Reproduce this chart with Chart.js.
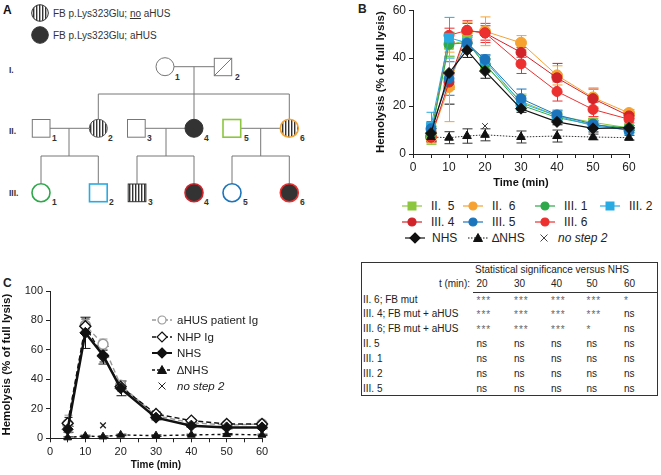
<!DOCTYPE html>
<html>
<head>
<meta charset="utf-8">
<script src="https://cdn.jsdelivr.net/npm/chart.js@4.4.1/dist/chart.umd.min.js"></script>
<style>
  html, body { margin:0; padding:0; background:#fff; }
  body { width:661px; height:475px; position:relative; overflow:hidden; font-family:"Liberation Sans", Arial, sans-serif; color:#222; }
  .abs { position:absolute; white-space:nowrap; }
  .lbl { font-weight:bold; font-size:12px; }
  .leg { position:absolute; display:flex; align-items:center; white-space:nowrap; font-size:12px; color:#222; }
  .leg svg { display:block; }
  .tb { position:absolute; font-size:10px; color:#222; white-space:nowrap; line-height:12px; }
  .st { color:#666; letter-spacing:1px; }
</style>
</head>
<body>
<script>
// ---------- DATA ----------
const times = [5, 10, 15, 20, 30, 40, 50, 60];

// Panel B: hemolysis (% of full lysis)
const bII5   = [8.0, 45.5, 47.5, 36.9, 22.0, 15.9, 13.2, 10.9];
const bII6   = [7.0, 28.0, 51.0, 51.2, 46.4, 32.8, 23.6, 17.1];
const bIII1  = [8.5, 45.8, 46.4, 37.6, 20.4, 15.2, 12.2, 10.9];
const bIII2  = [11.4, 48.5, 46.4, 39.0, 21.3, 15.9, 11.8, 10.0];
const bIII4  = [7.0, 30.0, 51.5, 50.5, 42.4, 31.8, 23.1, 15.9];
const bIII5  = [10.5, 31.5, 46.2, 39.4, 23.1, 16.3, 12.5, 9.8];
const bIII6  = [7.5, 49.5, 51.6, 50.5, 37.6, 26.1, 18.6, 14.5];
const bNHS   = [8.7, 33.8, 43.3, 34.6, 18.9, 13.4, 10.7, 10.9];
const bDNHS  = [7.1, 6.8, 7.5, 8.0, 7.1, 7.5, 7.1, 6.8];
const bNoStep2 = [{ x: 20, y: 11.7 }];

const eII5   = [4, 5, 4, 3, 3, 1.5, 1.5, 1];
const eII6   = [2.5, 14.5, 4, 6, 3, 4, 4, 1.5];
const eIII1  = [3, 5, 3, 2, 2, 1.5, 1.5, 1];
const eIII2  = [6, 8.5, 3, 2, 3, 2, 1.5, 1];
const eIII4  = [2, 3, 3, 3, 2, 6, 4, 1];
const eIII5  = [3, 7, 3, 2, 4, 2, 1.5, 1];
const eIII6  = [2, 3, 4, 4, 4, 4, 3, 1.5];
const eNHS   = [2, 13, 3, 3, 1.5, 1.2, 1.5, 1];
const eDNHS  = [2, 2.5, 3, 2.5, 2.5, 2.5, 1.2, 1];

// Panel C
const cAHUS  = [9.7, 76.7, 63.9, 36.0, 15.3, 10.6, 9.0, 9.7];
const cNHP   = [10.2, 76.0, 55.8, 35.0, 16.5, 12.0, 9.7, 9.7];
const cNHS   = [6.1, 71.6, 56.4, 33.9, 14.0, 8.6, 7.4, 7.4];
const cDNHS  = [0.5, 1.6, 1.1, 2.3, 1.8, 2.3, 2.7, 2.3];
const cNoStep2 = [{ x: 15, y: 8.8 }];

const ecAHUS = [6, 4, 3.5, 3, 1.5, 1, 1, 1];
const ecNHP  = [4, 5, 4, 3, 1.5, 1, 1, 1];
const ecNHS  = [2, 10.6, 6, 5, 1.5, 1, 1, 1];
const ecDNHS = [0.5, 0.5, 0.5, 0.5, 0.5, 0.5, 0.5, 0.5];

// Table
const tableCols = ['20', '30', '40', '50', '60'];
const tableRows = ['II. 6; FB mut', 'III. 4; FB mut + aHUS', 'III. 6; FB mut + aHUS', 'II. 5', 'III. 1', 'III. 2', 'III. 5'];
const tableVals = [
  ['***', '***', '***', '***', '*'],
  ['***', '***', '***', '***', 'ns'],
  ['***', '***', '***', '*', 'ns'],
  ['ns', 'ns', 'ns', 'ns', 'ns'],
  ['ns', 'ns', 'ns', 'ns', 'ns'],
  ['ns', 'ns', 'ns', 'ns', 'ns'],
  ['ns', 'ns', 'ns', 'ns', 'ns']
];

// Colours
const colII5 = '#8CC63F', colII6 = '#F5A231', colIII1 = '#2EA84A', colIII2 = '#29ABE2',
      colIII4 = '#D0232A', colIII5 = '#1C75BC', colIII6 = '#EC2F2F', colBlk = '#111';
</script>

<!-- Panel A: pedigree -->
<svg class="abs" style="left:0;top:0" width="360" height="250" xmlns="http://www.w3.org/2000/svg">
  <defs>
    <pattern id="stripes" patternUnits="userSpaceOnUse" width="3" height="6">
      <rect x="0" y="0" width="3" height="6" fill="#fff"/>
      <rect x="0" y="0" width="1.4" height="6" fill="#333"/>
    </pattern>
  </defs>
  <text x="3" y="14" font-family="Liberation Sans, Arial" font-weight="bold" font-size="12" fill="#111">A</text>
  <circle cx="40" cy="13" r="8.3" fill="url(#stripes)" stroke="#333" stroke-width="1"/>
  <text x="53" y="17" font-family="Liberation Sans, Arial" font-size="10" fill="#333">FB p.Lys323Glu; <tspan text-decoration="underline">no</tspan> aHUS</text>
  <circle cx="40" cy="35" r="8.3" fill="#333" stroke="#333" stroke-width="1"/>
  <text x="53" y="39" font-family="Liberation Sans, Arial" font-size="10" fill="#333">FB p.Lys323Glu; aHUS</text>

  <g font-family="Liberation Sans, Arial" font-weight="bold" font-size="8.5" fill="#333">
    <text x="9" y="73">I.</text>
    <text x="9" y="134">II.</text>
    <text x="9" y="196">III.</text>
  </g>

  <g stroke="#777" stroke-width="1" fill="none">
    <!-- generation I -->
    <line x1="174" y1="66.7" x2="214.3" y2="66.7"/>
    <line x1="194" y1="66.7" x2="194" y2="94"/>
    <line x1="98.3" y1="94" x2="289.3" y2="94"/>
    <line x1="98.3" y1="94" x2="98.3" y2="119.3"/>
    <line x1="194" y1="94" x2="194" y2="119.3"/>
    <line x1="289.3" y1="94" x2="289.3" y2="119.3"/>
    <!-- generation II couples -->
    <line x1="50" y1="128.3" x2="89.3" y2="128.3"/>
    <line x1="69" y1="128.3" x2="69" y2="156"/>
    <line x1="41" y1="156" x2="98.3" y2="156"/>
    <line x1="41" y1="156" x2="41" y2="183.7"/>
    <line x1="98.3" y1="156" x2="98.3" y2="184"/>
    <line x1="145" y1="128.3" x2="185" y2="128.3"/>
    <line x1="166" y1="128.3" x2="166" y2="156"/>
    <line x1="137" y1="156" x2="194" y2="156"/>
    <line x1="137" y1="156" x2="137" y2="184"/>
    <line x1="194" y1="156" x2="194" y2="183.7"/>
    <line x1="240.7" y1="128.3" x2="280.3" y2="128.3"/>
    <line x1="260.7" y1="128.3" x2="260.7" y2="156"/>
    <line x1="232" y1="156" x2="289.3" y2="156"/>
    <line x1="232" y1="156" x2="232" y2="183.7"/>
    <line x1="289.3" y1="156" x2="289.3" y2="183.7"/>
  </g>

  <!-- generation I symbols -->
  <circle cx="165" cy="66.7" r="9" fill="#fff" stroke="#777" stroke-width="1"/>
  <rect x="214.3" y="58.3" width="17.4" height="17.4" fill="#fff" stroke="#777" stroke-width="1"/>
  <line x1="214.3" y1="75.7" x2="231.7" y2="58.3" stroke="#777" stroke-width="1"/>
  <!-- generation II -->
  <rect x="32.3" y="119.5" width="17.7" height="17.7" fill="#fff" stroke="#777" stroke-width="1"/>
  <circle cx="98.3" cy="128.3" r="9" fill="url(#stripes)" stroke="#555" stroke-width="1"/>
  <rect x="127.5" y="119.5" width="17.7" height="17.7" fill="#fff" stroke="#777" stroke-width="1"/>
  <circle cx="194" cy="128.3" r="9" fill="#333" stroke="#333" stroke-width="1"/>
  <rect x="223" y="119.5" width="17.7" height="17.7" fill="#fff" stroke="#8CC63F" stroke-width="1.6"/>
  <circle cx="289.3" cy="128.3" r="9" fill="url(#stripes)" stroke="#F5A231" stroke-width="1.6"/>
  <!-- generation III -->
  <circle cx="41" cy="192.7" r="9" fill="#fff" stroke="#2EA84A" stroke-width="1.6"/>
  <rect x="89.5" y="184" width="17.7" height="17.7" fill="#fff" stroke="#29ABE2" stroke-width="1.6"/>
  <rect x="128.2" y="184" width="17.7" height="17.7" fill="url(#stripes)" stroke="#333" stroke-width="1"/>
  <circle cx="194" cy="192.7" r="9" fill="#333" stroke="#D0232A" stroke-width="1.6"/>
  <circle cx="232" cy="192.7" r="9" fill="#fff" stroke="#1C75BC" stroke-width="1.6"/>
  <circle cx="289.3" cy="192.7" r="9" fill="#333" stroke="#EC2F2F" stroke-width="1.6"/>

  <g font-family="Liberation Sans, Arial" font-weight="bold" font-size="8.5" fill="#333">
    <text x="175" y="80">1</text><text x="235" y="80">2</text>
    <text x="52" y="141">1</text><text x="108" y="141">2</text><text x="147" y="141">3</text>
    <text x="204" y="141">4</text><text x="244" y="141">5</text><text x="300" y="141">6</text>
    <text x="52" y="205">1</text><text x="109" y="205">2</text><text x="148" y="205">3</text>
    <text x="204" y="205">4</text><text x="243" y="205">5</text><text x="300" y="205">6</text>
  </g>
</svg>

<div class="abs lbl" style="left:358px;top:2px;">B</div>
<div class="abs lbl" style="left:3px;top:276px;">C</div>

<canvas id="chartB" class="abs" style="left:360px;top:0px;" width="290" height="196"></canvas>
<canvas id="chartC" class="abs" style="left:0px;top:275px;" width="280" height="200"></canvas>

<div id="legB"></div>
<div id="legC"></div>
<div id="tbl"></div>

<script>
Chart.defaults.font.family = '"Liberation Sans", Arial, sans-serif';
Chart.defaults.color = '#222';

const errorBarPlugin = {
  id: 'errorBars',
  beforeDatasetsDraw(chart) {
    const ctx = chart.ctx;
    const xs = chart.scales.x, ys = chart.scales.y;
    chart.data.datasets.forEach((ds, i) => {
      if (!ds.errors) return;
      const cap = ds.capWidth || 5;
      ctx.save();
      ctx.strokeStyle = ds.errorColor || ds.borderColor;
      ctx.lineWidth = 1;
      ds.data.forEach((p, j) => {
        const e = ds.errors[j];
        if (!e) return;
        const x = Math.round(xs.getPixelForValue(p.x)) + 0.5;
        const yt = ys.getPixelForValue(p.y + e);
        const yb = ys.getPixelForValue(Math.max(p.y - e, 0));
        ctx.beginPath();
        ctx.moveTo(x, yt); ctx.lineTo(x, yb);
        ctx.moveTo(x - cap, yt); ctx.lineTo(x + cap, yt);
        ctx.moveTo(x - cap, yb); ctx.lineTo(x + cap, yb);
        ctx.stroke();
      });
      ctx.restore();
    });
  }
};

function pts(vals) { return vals.map((v, i) => ({ x: times[i], y: v })); }

function lineDs(label, vals, errs, color, style, radius, order, extra) {
  return Object.assign({
    label, data: pts(vals), errors: errs,
    borderColor: color, backgroundColor: color,
    pointBackgroundColor: color, pointBorderColor: color,
    pointStyle: style, pointRadius: radius, pointBorderWidth: 1,
    borderWidth: 1, tension: 0, clip: false, order
  }, extra || {});
}

function axes(cfg) {
  const axisColor = '#222';
  return {
    x: {
      type: 'linear', min: 0, max: 60,
      afterFit: s => { s.height = cfg.xh; },
      afterBuildTicks: s => { s.ticks = [0,5,10,15,20,25,30,35,40,45,50,55,60].map(v => ({ value: v })); },
      ticks: { autoSkip: false, maxRotation: 0, padding: cfg.xpad, font: { size: cfg.tickSize }, color: '#222',
               callback: v => (v % 10 === 0 ? String(v) : '') },
      grid: { display: true, drawOnChartArea: false, drawTicks: true, tickLength: 4, color: axisColor, lineWidth: 1 },
      border: { display: true, color: axisColor, width: 1 },
      title: { display: true, text: 'Time (min)', font: { size: cfg.xtSize, weight: 'bold' }, color: '#111',
               padding: { top: 0, bottom: cfg.xtPad } }
    },
    y: {
      min: 0, max: cfg.ymax,
      afterFit: s => { s.width = cfg.yw; },
      ticks: { stepSize: 20, padding: 3, font: { size: cfg.tickSize }, color: '#222' },
      grid: { display: true, drawOnChartArea: false, drawTicks: true, tickLength: 4, color: axisColor, lineWidth: 1 },
      border: { display: true, color: axisColor, width: 1 },
      title: { display: true, text: 'Hemolysis (% of full lysis)', font: { size: 11.5, weight: 'bold' }, color: '#111',
               padding: { top: cfg.ytPad, bottom: 0 } }
    }
  };
}

// ---------- Chart B ----------
new Chart(document.getElementById('chartB'), {
  type: 'line',
  data: {
    datasets: [
      lineDs('NHS', bNHS, eNHS, colBlk, 'rectRot', 5.5, 0, { borderWidth: 1.2 }),
      lineDs('ΔNHS', bDNHS, eDNHS, colBlk, 'triangle', 5, 1, { borderDash: [1.5, 1.5], borderColor: '#333' }),
      lineDs('no step 2', bNoStep2.map(p => p.y), null, '#333', 'crossRot', 4, 2,
             { data: bNoStep2, showLine: false, pointBackgroundColor: 'rgba(0,0,0,0)' }),
      lineDs('III. 5', bIII5, eIII5, colIII5, 'circle', 5, 3),
      lineDs('III. 2', bIII2, eIII2, colIII2, 'rect', 6.2, 4),
      lineDs('III. 1', bIII1, eIII1, colIII1, 'circle', 5, 5),
      lineDs('II. 5', bII5, eII5, colII5, 'rect', 6.2, 6),
      lineDs('III. 6', bIII6, eIII6, colIII6, 'circle', 5, 7),
      lineDs('III. 4', bIII4, eIII4, colIII4, 'circle', 5, 8),
      lineDs('II. 6', bII6, eII6, colII6, 'circle', 5.5, 9)
    ]
  },
  options: {
    responsive: false, animation: false, events: [],
    layout: { padding: { left: 0, top: 7, right: 21, bottom: 0 } },
    plugins: { legend: { display: false }, tooltip: { enabled: false } },
    scales: axes({ xh: 42, yw: 53, ymax: 60, tickSize: 12, xpad: 2, xtSize: 11, xtPad: 6, ytPad: 14 })
  },
  plugins: [errorBarPlugin]
});

// ---------- Chart C ----------
new Chart(document.getElementById('chartC'), {
  type: 'line',
  data: {
    datasets: [
      lineDs('NHS', cNHS, ecNHS, colBlk, 'rectRot', 5.5, 0, { borderWidth: 2.5 }),
      lineDs('NHP Ig', cNHP, ecNHP, colBlk, 'rectRot', 5.5, 1,
             { borderDash: [5, 3], borderWidth: 1.4, pointBackgroundColor: '#fff', pointBorderWidth: 1.4, capWidth: 4 }),
      lineDs('aHUS patient Ig', cAHUS, ecAHUS, '#999', 'circle', 5, 2,
             { borderDash: [5, 3], borderWidth: 1.4, pointBackgroundColor: '#fff', pointBorderWidth: 1.4, capWidth: 4 }),
      lineDs('ΔNHS', cDNHS, ecDNHS, colBlk, 'triangle', 4.5, 3, { borderDash: [3, 3], borderWidth: 1.4 }),
      lineDs('no step 2', cNoStep2.map(p => p.y), null, '#222', 'crossRot', 4, 4,
             { data: cNoStep2, showLine: false, pointBackgroundColor: 'rgba(0,0,0,0)', pointBorderWidth: 1.3 })
    ]
  },
  options: {
    responsive: false, animation: false, events: [],
    layout: { padding: { left: 0, top: 16, right: 18, bottom: 0 } },
    plugins: { legend: { display: false }, tooltip: { enabled: false } },
    scales: axes({ xh: 36.7, yw: 50, ymax: 100, tickSize: 11, xpad: 3, xtSize: 10, xtPad: 4, ytPad: 0 })
  },
  plugins: [errorBarPlugin]
});

// ---------- Legends (HTML) ----------
function marker(style, color, fill, dash, lw) {
  const w = 20, h = 12, cx = 10, cy = 6;
  let line = `<line x1="0" y1="${cy}" x2="${w}" y2="${cy}" stroke="${color}" stroke-width="${lw || 1.2}" ${dash ? `stroke-dasharray="${dash}"` : ''}/>`;
  let m = '';
  const f = fill || color;
  if (style === 'circle') m = `<circle cx="${cx}" cy="${cy}" r="4" fill="${f}" stroke="${color}" stroke-width="1.2"/>`;
  if (style === 'rect') m = `<rect x="${cx-4}" y="${cy-4}" width="8" height="8" fill="${f}" stroke="${color}"/>`;
  if (style === 'diamond') m = `<polygon points="${cx},${cy-5} ${cx+5},${cy} ${cx},${cy+5} ${cx-5},${cy}" fill="${f}" stroke="${color}" stroke-width="1.2"/>`;
  if (style === 'triangle') m = `<polygon points="${cx},${cy-4.5} ${cx+4.5},${cy+3.5} ${cx-4.5},${cy+3.5}" fill="${f}" stroke="${color}"/>`;
  if (style === 'cross') { line = ''; m = `<path d="M${cx-3.5},${cy-3.5} L${cx+3.5},${cy+3.5} M${cx+3.5},${cy-3.5} L${cx-3.5},${cy+3.5}" stroke="${color}" stroke-width="1"/>`; }
  return `<svg width="${w}" height="${h}">${line}${m}</svg>`;
}

function legItem(parent, x, y, icon, text, italic, fs, gap) {
  const d = document.createElement('div');
  d.className = 'leg';
  d.style.left = x + 'px';
  d.style.top = (y - 7) + 'px';
  d.style.height = '14px';
  d.style.fontSize = fs + 'px';
  d.innerHTML = icon + `<span style="margin-left:${gap}px;${italic ? 'font-style:italic;' : ''}">${text}</span>`;
  parent.appendChild(d);
}

const legB = document.getElementById('legB');
const legBItems = [
  [402, 206, marker('rect', colII5), 'II.&nbsp; 5'],
  [463, 206, marker('circle', colII6), 'II.&nbsp; 6'],
  [535, 206, marker('circle', colIII1), 'III. 1'],
  [600, 206, marker('rect', colIII2), 'III. 2'],
  [402, 221.5, marker('circle', colIII4), 'III. 4'],
  [463, 221.5, marker('circle', colIII5), 'III. 5'],
  [535, 221.5, marker('circle', colIII6), 'III. 6']
];
legBItems.forEach(it => legItem(legB, it[0], it[1], it[2], it[3], false, 12, 9));
legItem(legB, 405, 238, marker('diamond', '#111'), 'NHS', false, 12, 7);
legItem(legB, 468, 238, marker('triangle', '#111', null, '1.5,1.5'), '∆NHS', false, 12, 4);
legItem(legB, 534, 238, marker('cross', '#444'), 'no step 2', true, 12, 4);

const legC = document.getElementById('legC');
legItem(legC, 152, 320, marker('circle', '#999', '#fff', '4,2', 1.3), 'aHUS patient Ig', false, 11.5, 5);
legItem(legC, 152, 336.6, marker('diamond', '#111', '#fff', '4,2', 1.3), 'NHP Ig', false, 11.5, 5);
legItem(legC, 152, 353.2, marker('diamond', '#111', '#111', null, 2), 'NHS', false, 11.5, 5);
legItem(legC, 152, 369.8, marker('triangle', '#111', '#111', '3,2', 1.3), '∆NHS', false, 11.5, 5);
legItem(legC, 152, 386.4, marker('cross', '#222'), 'no step 2', true, 11.5, 5);

// ---------- Table ----------
const tbl = document.getElementById('tbl');
function tdiv(x, y, html, extra) {
  const d = document.createElement('div');
  d.className = 'tb';
  d.style.left = x + 'px';
  d.style.top = (y - 6) + 'px';
  d.innerHTML = html;
  if (extra) Object.assign(d.style, extra);
  tbl.appendChild(d);
  return d;
}
const box = document.createElement('div');
Object.assign(box.style, { position: 'absolute', left: '361px', top: '262px', width: '295px', height: '132px', border: '1.5px solid #333' });
tbl.appendChild(box);
const sep = document.createElement('div');
Object.assign(sep.style, { position: 'absolute', left: '473px', top: '292px', width: '185px', height: '0', borderTop: '1.5px solid #333' });
tbl.appendChild(sep);
tdiv(475, 270, 'Statistical significance versus NHS');
tdiv(0, 284, 't (min):', { left: 'auto', right: (661 - 470) + 'px' });
const colX = [476.5, 514, 551, 586.5, 624];
tableCols.forEach((c, i) => tdiv(colX[i], 284, c));
const rowY = [299.5, 314.4, 329.3, 344.2, 359.1, 374, 388.9];
tableRows.forEach((r, i) => {
  tdiv(363, rowY[i], r);
  tableVals[i].forEach((v, j) => {
    if (v.indexOf('*') >= 0) tdiv(colX[j], rowY[i] + 1, `<span class="st">${v}</span>`);
    else tdiv(colX[j], rowY[i], v);
  });
});
</script>
</body>
</html>
